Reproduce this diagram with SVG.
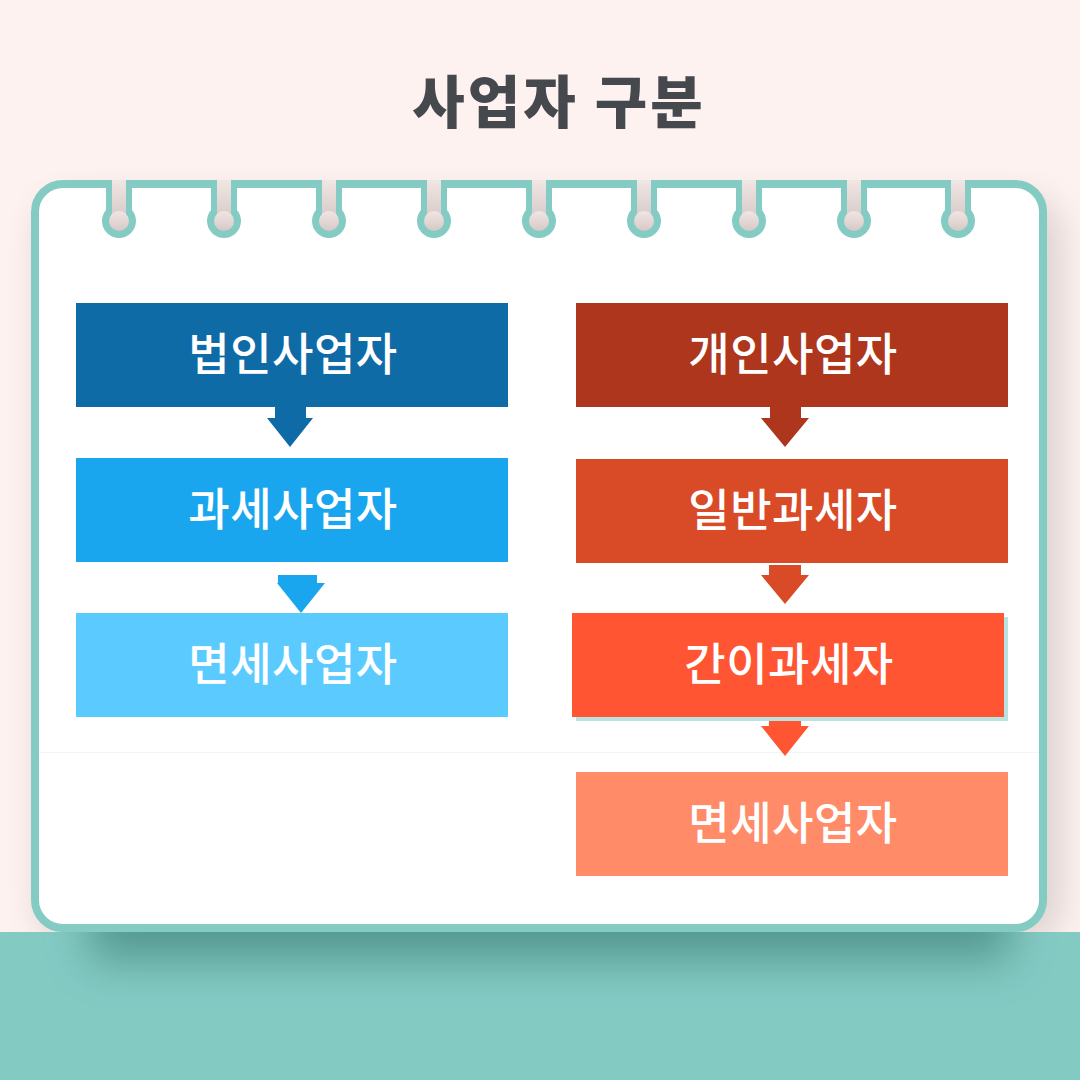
<svg xmlns="http://www.w3.org/2000/svg" width="1080" height="1080" viewBox="0 0 1080 1080">
  <style>
    .title { font-family: "Noto Sans CJK KR", "Noto Sans", sans-serif; font-weight: 900; font-size: 57px; letter-spacing: 3px; fill: #45484D; }
    .lbl { font-family: "Noto Sans CJK KR", "Noto Sans", sans-serif; font-weight: 500; font-size: 45px; letter-spacing: 0.5px; fill: #FFFFFF; }
    .ring { fill: #84CBC3; }
    .hole { fill: url(#holeGrad); }
  </style>
  <defs>
    <linearGradient id="holeGrad" x1="0" y1="0" x2="0" y2="1">
      <stop offset="0" stop-color="#F1E6E3"/>
      <stop offset="1" stop-color="#D4C9C6"/>
    </linearGradient>
    <filter id="cardShadow" x="-10%" y="-10%" width="120%" height="125%">
      <feGaussianBlur stdDeviation="18"/>
    </filter>
    <filter id="bandShadow" x="-20%" y="-100%" width="140%" height="300%">
      <feGaussianBlur stdDeviation="22"/>
    </filter>
    <clipPath id="bandClip"><rect x="0" y="932" width="1080" height="148"/></clipPath>
    <g id="ringShape">
      <rect x="-13" y="-40" width="26" height="40" class="ring"/>
      <circle cx="0" cy="0" r="17" class="ring"/>
      <rect x="-7" y="-41" width="14" height="41" class="hole"/>
      <circle cx="0" cy="0" r="10" class="hole"/>
    </g>
  </defs>

  <!-- background -->
  <rect x="0" y="0" width="1080" height="1080" fill="#FDF2F0"/>
  <rect x="40" y="200" width="1020" height="740" rx="30" fill="#000" opacity="0.14" filter="url(#cardShadow)"/>
  <rect x="0" y="932" width="1080" height="148" fill="#83CAC3"/>
  <g clip-path="url(#bandClip)">
    <rect x="90" y="880" width="920" height="80" fill="#2F6E68" opacity="0.55" filter="url(#bandShadow)"/>
  </g>

  <!-- title -->
  <text class="title" x="559" y="123" text-anchor="middle">사업자 구분</text>

  <!-- card -->
  <g id="card">
    <rect x="35" y="184" width="1008" height="744" rx="28" fill="#FFFFFF" stroke="#84CBC3" stroke-width="8"/>
    <line x1="39" y1="752.5" x2="1039" y2="752.5" stroke="#F4F4F4" stroke-width="1"/>
    <g id="rings">
      <use href="#ringShape" x="119" y="221"/>
      <use href="#ringShape" x="224" y="221"/>
      <use href="#ringShape" x="329" y="221"/>
      <use href="#ringShape" x="434" y="221"/>
      <use href="#ringShape" x="539" y="221"/>
      <use href="#ringShape" x="644" y="221"/>
      <use href="#ringShape" x="749" y="221"/>
      <use href="#ringShape" x="854" y="221"/>
      <use href="#ringShape" x="958" y="221"/>
    </g>
  </g>

  <!-- connectors -->
  <g id="connectors">
    <polygon points="275,407 306,407 306,418 313,418 290,447 267,418 275,418" fill="#0E6BA5"/>
    <polygon points="278,575 317,575 317,583 325,583 301,613 277,583 278,583" fill="#1AA6EE"/>
    <polygon points="770,407 801,407 801,418 809,418 785,447 761,418 770,418" fill="#AD361D"/>
    <polygon points="769,565 801,565 801,575 809,575 785,604 761,575 769,575" fill="#D94A27"/>
    <polygon points="769,718 801,718 801,726 809,726 785,756 761,726 769,726" fill="#FF5533"/>
  </g>

  <!-- left column -->
  <g id="n-corp">
    <rect x="76" y="303" width="432" height="104" fill="#0E6BA5"/>
    <text class="lbl" x="293" y="371" text-anchor="middle">법인사업자</text>
  </g>
  <g id="n-taxable">
    <rect x="76" y="458" width="432" height="104" fill="#1AA6EE"/>
    <text class="lbl" x="293" y="526" text-anchor="middle">과세사업자</text>
  </g>
  <g id="n-exempt-left">
    <rect x="76" y="613" width="432" height="104" fill="#5BCBFF"/>
    <text class="lbl" x="293" y="681" text-anchor="middle">면세사업자</text>
  </g>

  <!-- right column -->
  <g id="n-indiv">
    <rect x="576" y="303" width="432" height="104" fill="#AD361D"/>
    <text class="lbl" x="793" y="371" text-anchor="middle">개인사업자</text>
  </g>
  <g id="n-general">
    <rect x="576" y="459" width="432" height="104" fill="#D94A27"/>
    <text class="lbl" x="793" y="527" text-anchor="middle">일반과세자</text>
  </g>
  <g id="n-simple">
    <rect x="576" y="617" width="432" height="104" fill="#B8E3DF"/>
    <rect x="572" y="613" width="432" height="104" fill="#FF5533"/>
    <text class="lbl" x="789" y="681" text-anchor="middle">간이과세자</text>
  </g>
  <g id="n-exempt-right">
    <rect x="576" y="772" width="432" height="104" fill="#FF8B69"/>
    <text class="lbl" x="793" y="840" text-anchor="middle">면세사업자</text>
  </g>
</svg>
